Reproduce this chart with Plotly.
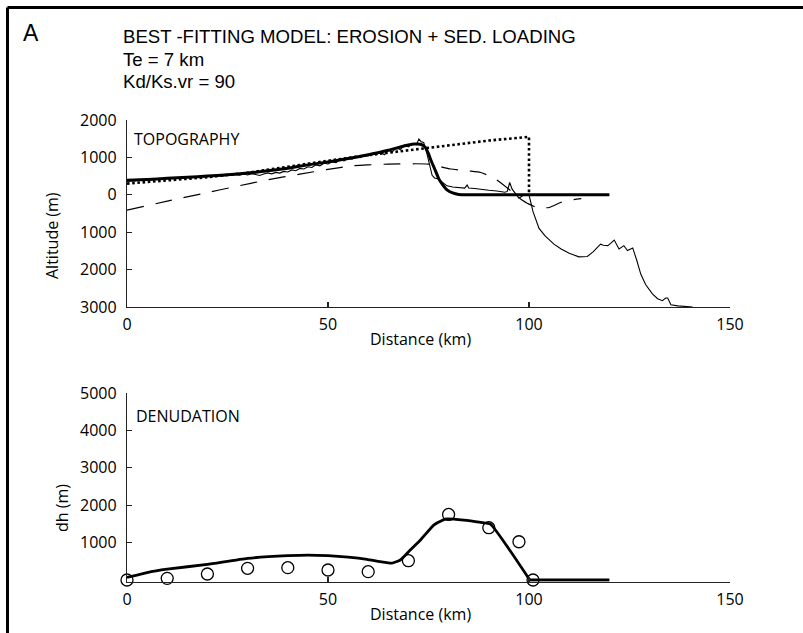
import plotly.graph_objects as go

W, H = 803, 633

# ---------------- data ----------------
# Observed topography (thin solid line)
obs_x = [0, 1, 2, 3, 4, 5, 6, 7, 8, 9, 10, 11, 12, 13, 14, 15, 16, 17, 18, 19, 20,
         21, 22, 23, 24, 25, 26, 27, 28, 29, 30, 31, 32, 33, 34, 35, 36, 37, 38, 39, 40,
         41, 42, 43, 44, 45, 46, 47, 48, 49, 50, 51, 52, 53, 54, 55, 56, 57, 58, 59, 60,
         61, 62, 63, 64, 65, 66, 67, 68, 69, 70, 71, 72, 72.6, 73.2, 73.8, 74.5, 75,
         75.9, 76.5, 77.5, 78.5, 79.6, 81, 82.5, 84, 84.6, 85, 86.5, 88, 90, 92, 94,
         94.6, 95.2, 95.8, 96.5, 97.5, 98.5, 100, 101, 102.5, 104, 106.2, 108, 110,
         112.4, 114.5, 116, 117.8, 118.5, 119.6, 120.3, 121.2, 122.4, 123.6, 124.5,
         125.8, 126.8, 127.8, 129, 130.7, 132, 133.2, 134, 134.5, 135.3, 137, 140.7]
obs_y = [360, 380, 370, 400, 390, 410, 400, 420, 430, 420, 440, 430, 455, 450, 470, 460, 480, 470, 495, 480, 500,
         490, 510, 520, 505, 530, 515, 545, 525, 555, 530, 565, 545, 515, 555, 585, 560, 600, 580, 625, 610,
         665, 645, 705, 690, 750, 730, 800, 775, 845, 825, 880, 860, 935, 905, 975, 950, 1020, 990, 1070, 1040,
         1110, 1075, 1160, 1070, 1190, 1150, 1260, 1210, 1330, 1280, 1370, 1340, 1490, 1420, 1400, 1150, 950,
         520, 450, 420, 330, 240, 210, 200, 180, 260, 180, 170, 140, 120, 100, 70,
         90, 330, 150, 60, -90, -20, 0, -450, -900, -1100, -1320, -1450, -1560,
         -1660, -1650, -1520, -1320, -1350, -1360, -1300, -1210, -1450, -1360, -1490,
         -1420, -1750, -2120, -2400, -2650, -2780, -2830, -2760, -2760, -2940, -2970, -3000]

# Best-fitting model topography (thick solid line)
model_x = [0, 5, 10, 15, 20, 25, 30, 35, 40, 45, 50, 55, 60, 65, 68, 70, 71.5, 73,
           74, 75, 75.5, 76.5, 77.6, 78.5, 79.6, 81, 82.5, 85, 120]
model_y = [390, 410, 440, 470, 500, 535, 580, 640, 710, 800, 880, 970, 1070, 1190, 1280, 1330, 1355, 1350,
           1290, 1100, 950, 700, 420, 270, 130, 50, 10, 0, 0]

# Initial topography (dotted line)
init_x = [0, 10, 20, 30, 40, 50, 60, 70, 80, 90, 100, 100]
init_y = [300, 380, 470, 590, 760, 910, 1060, 1195, 1335, 1450, 1550, 0]

# Other model profile (dashed line)
dash_x = [0, 10, 20, 26.5, 35, 43, 50, 56, 60, 65, 75, 80.5, 85, 88, 91.7, 95, 97.4, 100, 102, 105, 108, 111, 113]
dash_y = [-410, -170, 60, 210, 400, 553, 680, 775, 800, 820, 820, 690, 640, 597, 419, 150, -71, -250, -339, -339, -200, -130, -100]

# Denudation: observed (circles) and modelled (thick line)
den_obs_x = [0, 10, 20, 30, 40, 50, 60, 70, 80, 90, 97.5, 101]
den_obs_y = [0, 44, 160, 312, 330, 267, 223, 516, 1753, 1398, 1023, 0]
den_mod_x = [0, 5, 10, 20, 30, 40, 45, 50, 55, 59.7, 63, 65.9, 68, 70, 73, 76.3, 79.2, 83.8, 88, 90.4, 100.2]
den_mod_y = [70, 200, 290, 418, 579, 650, 667, 650, 610, 552, 490, 450, 534, 750, 1068, 1469, 1629, 1602, 1540, 1495, 0]
den_flat_x = [100.2, 120]
den_flat_y = [0, 0]

x_ticks = [0, 50, 100, 150]
topo_ticks = [-3000, -2000, -1000, 0, 1000, 2000]
topo_tick_text = ["3000", "2000", "1000", "0", "1000", "2000"]
den_ticks = [1000, 2000, 3000, 4000, 5000]
den_tick_text = ["1000", "2000", "3000", "4000", "5000"]

# ---------------- figure ----------------
def px(x):
    return x / W

def py(y):
    return 1 - y / H

LABEL_FONT = "Open Sans"
TICKFONT = dict(family=LABEL_FONT, size=16, color="black")
fig = go.Figure()

fig.add_trace(go.Scatter(x=obs_x, y=obs_y, mode="lines", line=dict(color="black", width=1.1),
                         xaxis="x", yaxis="y", showlegend=False, hoverinfo="skip"))
fig.add_trace(go.Scatter(x=dash_x, y=dash_y, mode="lines",
                         line=dict(color="black", width=1.2, dash="17px,12px", shape="spline", smoothing=0.6),
                         xaxis="x", yaxis="y", showlegend=False, hoverinfo="skip"))
fig.add_trace(go.Scatter(x=init_x, y=init_y, mode="lines", line=dict(color="black", width=2.6, dash="2.6px,2.6px"),
                         xaxis="x", yaxis="y", showlegend=False, hoverinfo="skip"))
fig.add_trace(go.Scatter(x=model_x, y=model_y, mode="lines",
                         line=dict(color="black", width=3, shape="spline", smoothing=0.5),
                         xaxis="x", yaxis="y", showlegend=False, hoverinfo="skip"))

fig.add_trace(go.Scatter(x=den_mod_x, y=den_mod_y, mode="lines",
                         line=dict(color="black", width=2.8, shape="spline", smoothing=0.4),
                         xaxis="x2", yaxis="y2", showlegend=False, hoverinfo="skip"))
fig.add_trace(go.Scatter(x=den_flat_x, y=den_flat_y, mode="lines", line=dict(color="black", width=2.8),
                         xaxis="x2", yaxis="y2", showlegend=False, hoverinfo="skip"))
fig.add_trace(go.Scatter(x=den_obs_x, y=den_obs_y, mode="markers",
                         marker=dict(symbol="circle-open", size=12, color="black", line=dict(width=1.3, color="black")),
                         xaxis="x2", yaxis="y2", showlegend=False, cliponaxis=False, hoverinfo="skip"))

ax_common = dict(showgrid=False, zeroline=False, showline=True, linecolor="#222", linewidth=1.2,
                 ticks="inside", ticklen=5, tickwidth=1.2, tickcolor="#222", tickfont=TICKFONT,
                 automargin=False)

# bottom panel: value 0 sits at pixel 580; axis line slightly below so the flat model line shows fully
den_min = -45
den_px_per_m = (580 - 393) / 5000.0
den_bottom_px = 580 + (-den_min) * den_px_per_m

fig.update_layout(
    width=W, height=H,
    margin=dict(l=0, r=0, t=0, b=0, pad=0, autoexpand=False),
    paper_bgcolor="white", plot_bgcolor="white",
    xaxis=dict(domain=[px(127), px(730)], range=[0, 150], tickvals=x_ticks, anchor="y",
               ticklabelstandoff=3, **ax_common),
    yaxis=dict(domain=[py(307), py(120)], range=[-3000, 2000], tickvals=topo_ticks, ticktext=topo_tick_text,
               anchor="x", ticklabelstandoff=6, **ax_common),
    xaxis2=dict(domain=[px(127), px(730)], range=[0, 150], tickvals=x_ticks, anchor="y2",
                ticklabelstandoff=3, **ax_common),
    yaxis2=dict(domain=[py(den_bottom_px), py(393)], range=[den_min, 5000], tickvals=den_ticks,
                ticktext=den_tick_text, anchor="x2", ticklabelstandoff=6, **ax_common),
)

ann = []
def text(x, y, s, size=16, family=LABEL_FONT, xanchor="left", angle=0):
    ann.append(dict(x=px(x), y=py(y), xref="paper", yref="paper", text=s, showarrow=False,
                    xanchor=xanchor, yanchor="middle", textangle=angle, borderpad=0,
                    font=dict(family=family, size=size, color="black")))

text(22, 33, "A", size=23, family="Liberation Sans")
text(122, 36, "BEST -FITTING MODEL: EROSION + SED. LOADING", size=18.6, family="Liberation Sans")
text(122, 59, "Te = 7 km", size=18.6, family="Liberation Sans")
text(122, 82, "Kd/Ks.vr = 90", size=18.6, family="Liberation Sans")
text(133, 139, "TOPOGRAPHY")
text(135, 416, "DENUDATION")
text(420, 339, "Distance (km)", xanchor="center")
text(420, 614, "Distance (km)", xanchor="center")
text(52, 235, "Altitude (m)", xanchor="center", angle=-90)
text(62, 508, "dh (m)", xanchor="center", angle=-90)
fig.update_layout(annotations=ann)

# Frame lines (top and left edges of the panel)
fig.update_layout(shapes=[
    dict(type="line", xref="paper", yref="paper", x0=px(7.5), x1=1, y0=py(7.5), y1=py(7.5),
         line=dict(color="black", width=3)),
    dict(type="line", xref="paper", yref="paper", x0=px(7.5), x1=px(7.5), y0=py(7.5), y1=0,
         line=dict(color="black", width=3)),
])

page_js = (
    "var de=document.documentElement, b=document.body;"
    "de.style.margin='0';de.style.overflow='hidden';"
    "b.style.margin='0';b.style.overflow='hidden';"
)

fig.write_html("out.html", config={"displayModeBar": False, "staticPlot": True}, post_script=page_js)
